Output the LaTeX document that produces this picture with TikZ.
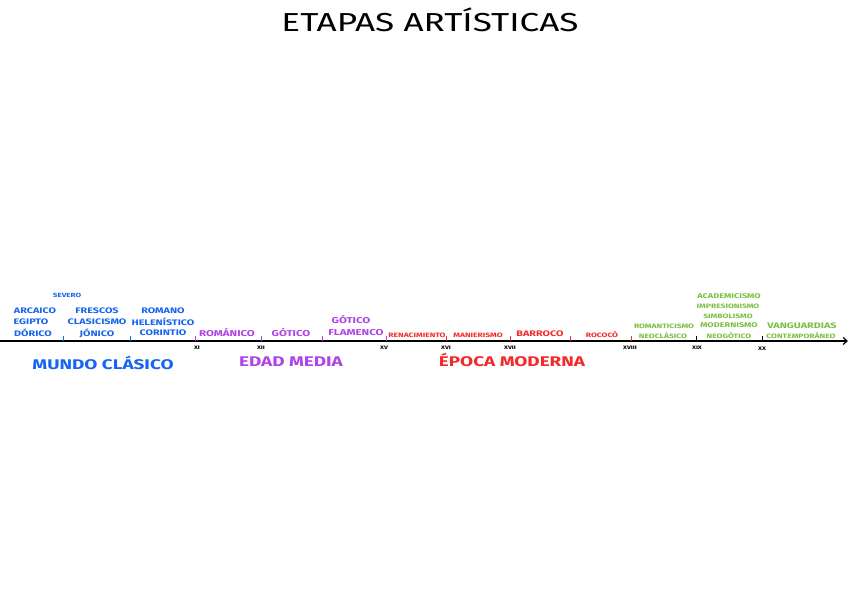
\documentclass[tikz,border=0pt]{standalone}
\usepackage{fontspec}
\setmainfont{Fira Sans}
\newfontfamily\wf[FakeStretch=1.35]{Fira Sans}
\usetikzlibrary{arrows.meta}
\definecolor{cblue}{HTML}{1565F0}
\definecolor{cpurple}{HTML}{B044E6}
\definecolor{cred}{HTML}{F42A2A}
\definecolor{cgreen}{HTML}{79C042}
\tikzset{
  lbl/.style={inner sep=0pt, font=\wf\fontsize{6.3}{7}\selectfont\bfseries},
  lblb/.style={inner sep=0pt, font=\wf\fontsize{8}{9}\selectfont\bfseries},
  lblp/.style={inner sep=0pt, font=\wf\fontsize{8.5}{9}\selectfont\bfseries},
  big/.style={inner sep=0pt, font=\wf\fontsize{14}{16}\selectfont\bfseries},
  num/.style={inner sep=0pt, font=\wf\fontsize{5}{5}\selectfont\bfseries, text=black},
  tk/.style={line width=1pt},
  axisline/.style={line width=1.2pt, -{Straight Barb[length=4pt,width=7pt]}}
}
\begin{document}
\begin{tikzpicture}[x=1pt,y=-1pt]
\useasboundingbox (0,0) rectangle (848,601);
\fill[white] (0,0) rectangle (848,601);
\node[inner sep=0pt, font=\wf\fontsize{26}{28}\selectfont] (title) at (430,20) {ETAPAS ARTÍSTICAS};
% axis
\coordinate (a0) at (0,341);
\coordinate (a1) at (848,341);
\draw[axisline] (a0) -- (a1);
% ticks
\foreach \x/\c in {63/cblue,130/cblue,195/cpurple,261/cpurple,322/cpurple,386/cpurple,446/cred,510/cred,570/cred,631/cred,696/black,762/black}
  \draw[tk,\c] (\x,336) -- (\x,341);
% numerals
\node[num] (n1) at (197,348) {XI};
\node[num] (n2) at (261,348) {XII};
\node[num] (n3) at (384,348) {XV};
\node[num] (n4) at (446,348) {XVI};
\node[num] (n5) at (510,348) {XVII};
\node[num] (n6) at (630,348) {XVIII};
\node[num] (n7) at (697,348) {XIX};
\node[num] (n8) at (762,349) {XX};
% blue
\begin{scope}[every node/.append style={lblb,text=cblue}]
\node[font=\wf\fontsize{6}{6}\selectfont\bfseries] (sev) at (67,295) {SEVERO};
\node (arc) at (35,311) {ARCAICO};
\node (egi) at (31,322) {EGIPTO};
\node (dor) at (33,333) {DÓRICO};
\node (fre) at (97,311) {FRESCOS};
\node (cla) at (97,322) {CLASICISMO};
\node (jon) at (97,333) {JÓNICO};
\node (rom) at (163,311) {ROMANO};
\node (hel) at (163,322) {HELENÍSTICO};
\node (cor) at (163,333) {CORINTIO};
\end{scope}
\node[big,text=cblue] (mc) at (103,363) {MUNDO CLÁSICO};
% purple
\begin{scope}[every node/.append style={lblp,text=cpurple}]
\node (roma) at (227,333) {ROMÁNICO};
\node (got) at (291,333) {GÓTICO};
\node (got2) at (351,320) {GÓTICO};
\node (fla) at (356,333) {FLAMENCO};
\end{scope}
\node[big,text=cpurple] (em) at (291,362) {EDAD MEDIA};
% red
\begin{scope}[every node/.append style={lbl,text=cred}]
\node (ren) at (417,335) {RENACIMIENTO};
\node (man) at (478,335) {MANIERISMO};
\node[lblb] (bar) at (540,334) {BARROCO};
\node (roc) at (602,335) {ROCOCÓ};
\end{scope}
\node[big,text=cred] (epm) at (512,360) {ÉPOCA MODERNA};
% green
\begin{scope}[every node/.append style={lbl,text=cgreen}]
\node (rmt) at (664,326) {ROMANTICISMO};
\node (neo) at (663,336) {NEOCLÁSICO};
\node[font=\wf\fontsize{6.8}{7}\selectfont\bfseries] (aca) at (729,296) {ACADEMICISMO};
\node (imp) at (728,306) {IMPRESIONISMO};
\node (sim) at (728,316) {SIMBOLISMO};
\node[font=\wf\fontsize{6.8}{7}\selectfont\bfseries] (mod) at (729,325) {MODERNISMO};
\node (neog) at (729,336) {NEOGÓTICO};
\node[lblb] (van) at (802,326) {VANGUARDIAS};
\node (con) at (801,336) {CONTEMPORÁNEO};
\end{scope}
\end{tikzpicture}
\end{document}
